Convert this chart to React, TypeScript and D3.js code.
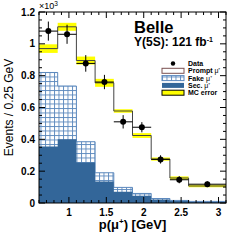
import React from 'react';
import * as d3 from 'd3';

// bins of p(mu+) in GeV, values in units of 10^3 events / 0.25 GeV
const binEdges = [0.6, 0.85, 1.1, 1.35, 1.6, 1.85, 2.1, 2.35, 2.6, 3.1];
const secMu = [0.355, 0.4, 0.255, 0.135, 0.07, 0.045, 0.022, 0.012, 0.006];
const fakeMu = [0.465, 0.335, 0.13, 0.055, 0.028, 0.015, 0.006, 0.004, 0.004];
const promptMu = [0.15, 0.372, 0.51, 0.565, 0.48, 0.364, 0.248, 0.141, 0.097];
const mcError = [0.027, 0.025, 0.025, 0.025, 0.011, 0.015, 0.01, 0.01, 0.008];
const dataVal = [1.08, 1.06, 0.877, 0.76, 0.51, 0.476, 0.274, 0.146, 0.118];
const dataErr = [0.06, 0.06, 0.052, 0.045, 0.042, 0.032, 0.026, 0.022, 0.018];

const xTicks = [1, 1.5, 2, 2.5, 3];
const yTicks = [0, 0.2, 0.4, 0.6, 0.8, 1, 1.2];
const legendItems = ['Data', 'Prompt', 'Fake', 'Sec.', 'MC error'];

const W = 249, H = 242;
const margin = { top: 12, right: 23, bottom: 39, left: 39 };
const font = 'Liberation Sans, Arial, Helvetica, sans-serif';
const secColor = '#336699';
const hatchColor = '#5b88bd';

export default function App() {
  const x = d3.scaleLinear().domain([0.6, 3.1]).range([margin.left, W - margin.right]);
  const y = d3.scaleLinear().domain([0, 1.2]).range([H - margin.bottom, margin.top]);

  const n = secMu.length;
  const stackSec = secMu;
  const stackFake = secMu.map((s, i) => s + fakeMu[i]);
  const stackTot = stackFake.map((s, i) => s + promptMu[i]);

  const stepPts = (vals: number[]) => binEdges.map((e, i) => ({ e, v: vals[Math.min(i, n - 1)] }));

  const area = d3.area<{ e: number; v: number }>()
    .x(d => x(d.e))
    .y0(y(0))
    .y1(d => y(d.v))
    .curve(d3.curveStepAfter);
  const line = d3.line<{ e: number; v: number }>()
    .x(d => x(d.e))
    .y(d => y(d.v))
    .curve(d3.curveStepAfter);

  const x0 = x.range()[0], x1 = x.range()[1], y0 = y.range()[0], y1 = y.range()[1];

  const xMinor = d3.range(0.6, 3.1001, 0.1);
  const yMinor = d3.range(0, 1.2001, 0.05);

  const lx = 165, ly = 63.5, dy = 7.3;

  return (
    <svg width={W} height={H} style={{ position: 'absolute', left: 0, top: 0, background: '#fff' }}
      fontFamily={font}>
      <defs>
        <pattern id="hatch" width={4.5} height={4.5} patternUnits="userSpaceOnUse">
          <rect width={4.5} height={4.5} fill="#fff" />
          <path d="M0,0.5 H4.5 M0.5,0 V4.5" stroke={hatchColor} strokeWidth={0.9} />
        </pattern>
        <clipPath id="frame">
          <rect x={x0} y={y1} width={x1 - x0} height={y0 - y1} />
        </clipPath>
      </defs>

      <g clipPath="url(#frame)">
        <path d={area(stepPts(stackFake)) || ''} fill="url(#hatch)" />
        <path d={line(stepPts(stackFake)) || ''} fill="none" stroke={hatchColor} strokeWidth={1} />
        <path d={area(stepPts(stackSec)) || ''} fill={secColor} />
        {stackTot.map((v, i) => (
          <rect key={i} x={x(binEdges[i])} width={x(binEdges[i + 1]) - x(binEdges[i])}
            y={y(v + mcError[i])} height={y(v - mcError[i]) - y(v + mcError[i])} fill="#ffff00" />
        ))}
        <path d={line(stepPts(stackTot)) || ''} fill="none" stroke="#444" strokeWidth={1} />
        {dataVal.map((v, i) => {
          const cx = x((binEdges[i] + binEdges[i + 1]) / 2);
          return (
            <g key={i}>
              <line x1={x(binEdges[i])} x2={x(binEdges[i + 1])} y1={y(v)} y2={y(v)} stroke="#000" strokeWidth={1} />
              <line x1={cx} x2={cx} y1={y(v - dataErr[i])} y2={y(v + dataErr[i])} stroke="#000" strokeWidth={1} />
              <circle cx={cx} cy={y(v)} r={3} fill="#000" />
            </g>
          );
        })}
      </g>

      {/* frame + ticks */}
      <rect x={x0} y={y1} width={x1 - x0} height={y0 - y1} fill="none" stroke="#000" strokeWidth={1} />
      {xMinor.map((t, i) => {
        const major = xTicks.some(m => Math.abs(m - t) < 1e-6);
        const len = major ? 6 : 3;
        return (
          <g key={'xm' + i} stroke="#000" strokeWidth={1}>
            <line x1={x(t)} x2={x(t)} y1={y0} y2={y0 - len} />
            <line x1={x(t)} x2={x(t)} y1={y1} y2={y1 + len} />
          </g>
        );
      })}
      {yMinor.map((t, i) => {
        const major = yTicks.some(m => Math.abs(m - t) < 1e-6);
        const len = major ? 6 : 3;
        return (
          <g key={'ym' + i} stroke="#000" strokeWidth={1}>
            <line x1={x0} x2={x0 + len} y1={y(t)} y2={y(t)} />
            <line x1={x1} x2={x1 - len} y1={y(t)} y2={y(t)} />
          </g>
        );
      })}

      {xTicks.map(t => (
        <text key={t} x={x(t)} y={216} textAnchor="middle" fontSize={10} fontWeight="bold">{t}</text>
      ))}
      {yTicks.map(t => (
        <text key={t} x={35} y={y(t) + 3.6} textAnchor="end" fontSize={10} fontWeight="bold">{t}</text>
      ))}
      <text x={39} y={8.5} fontSize={9}>×10<tspan dy={-3} fontSize={6.5}>3</tspan></text>

      <text x={(x0 + x1) / 2} y={229} textAnchor="middle" fontSize={13} fontWeight="bold">
        p(μ<tspan dy={-5} fontSize={8}>+</tspan><tspan dy={5}>) [GeV]</tspan>
      </text>
      <text transform={`translate(13,${(y0 + y1) / 2}) rotate(-90)`} textAnchor="middle" fontSize={12}>
        Events / 0.25 GeV
      </text>

      <text x={134} y={33} fontSize={16.5} fontWeight="bold">Belle</text>
      <text x={134} y={46} fontSize={12} fontWeight="bold">
        Υ(5S): 121 fb<tspan dy={-4} fontSize={7}>-1</tspan>
      </text>

      {/* legend */}
      {legendItems.map((lab, i) => {
        const cy = ly + i * dy;
        let sym: React.ReactNode = null;
        if (i === 0) sym = <circle cx={lx + 8} cy={cy} r={2.2} fill="#000" />;
        if (i === 1) sym = <rect x={lx - 3} y={cy - 2.5} width={22} height={5} fill="#fff" stroke="#7a5050" strokeWidth={1} />;
        if (i === 2) sym = <rect x={lx - 3} y={cy - 2.5} width={22} height={5} fill="url(#hatch)" stroke={hatchColor} strokeWidth={1} />;
        if (i === 3) sym = <rect x={lx - 3} y={cy - 2.5} width={22} height={5} fill={secColor} />;
        if (i === 4) sym = <rect x={lx - 3} y={cy - 2.5} width={22} height={5} fill="#ffff00" stroke="#000" strokeWidth={1} />;
        return (
          <g key={lab}>
            {sym}
            <text x={lx + 23} y={cy + 2.6} fontSize={7} fontWeight="bold">
              {lab}
              {i >= 1 && i <= 3 ? <tspan fontWeight="normal"> μ⁺</tspan> : null}
            </text>
          </g>
        );
      })}
    </svg>
  );
}
